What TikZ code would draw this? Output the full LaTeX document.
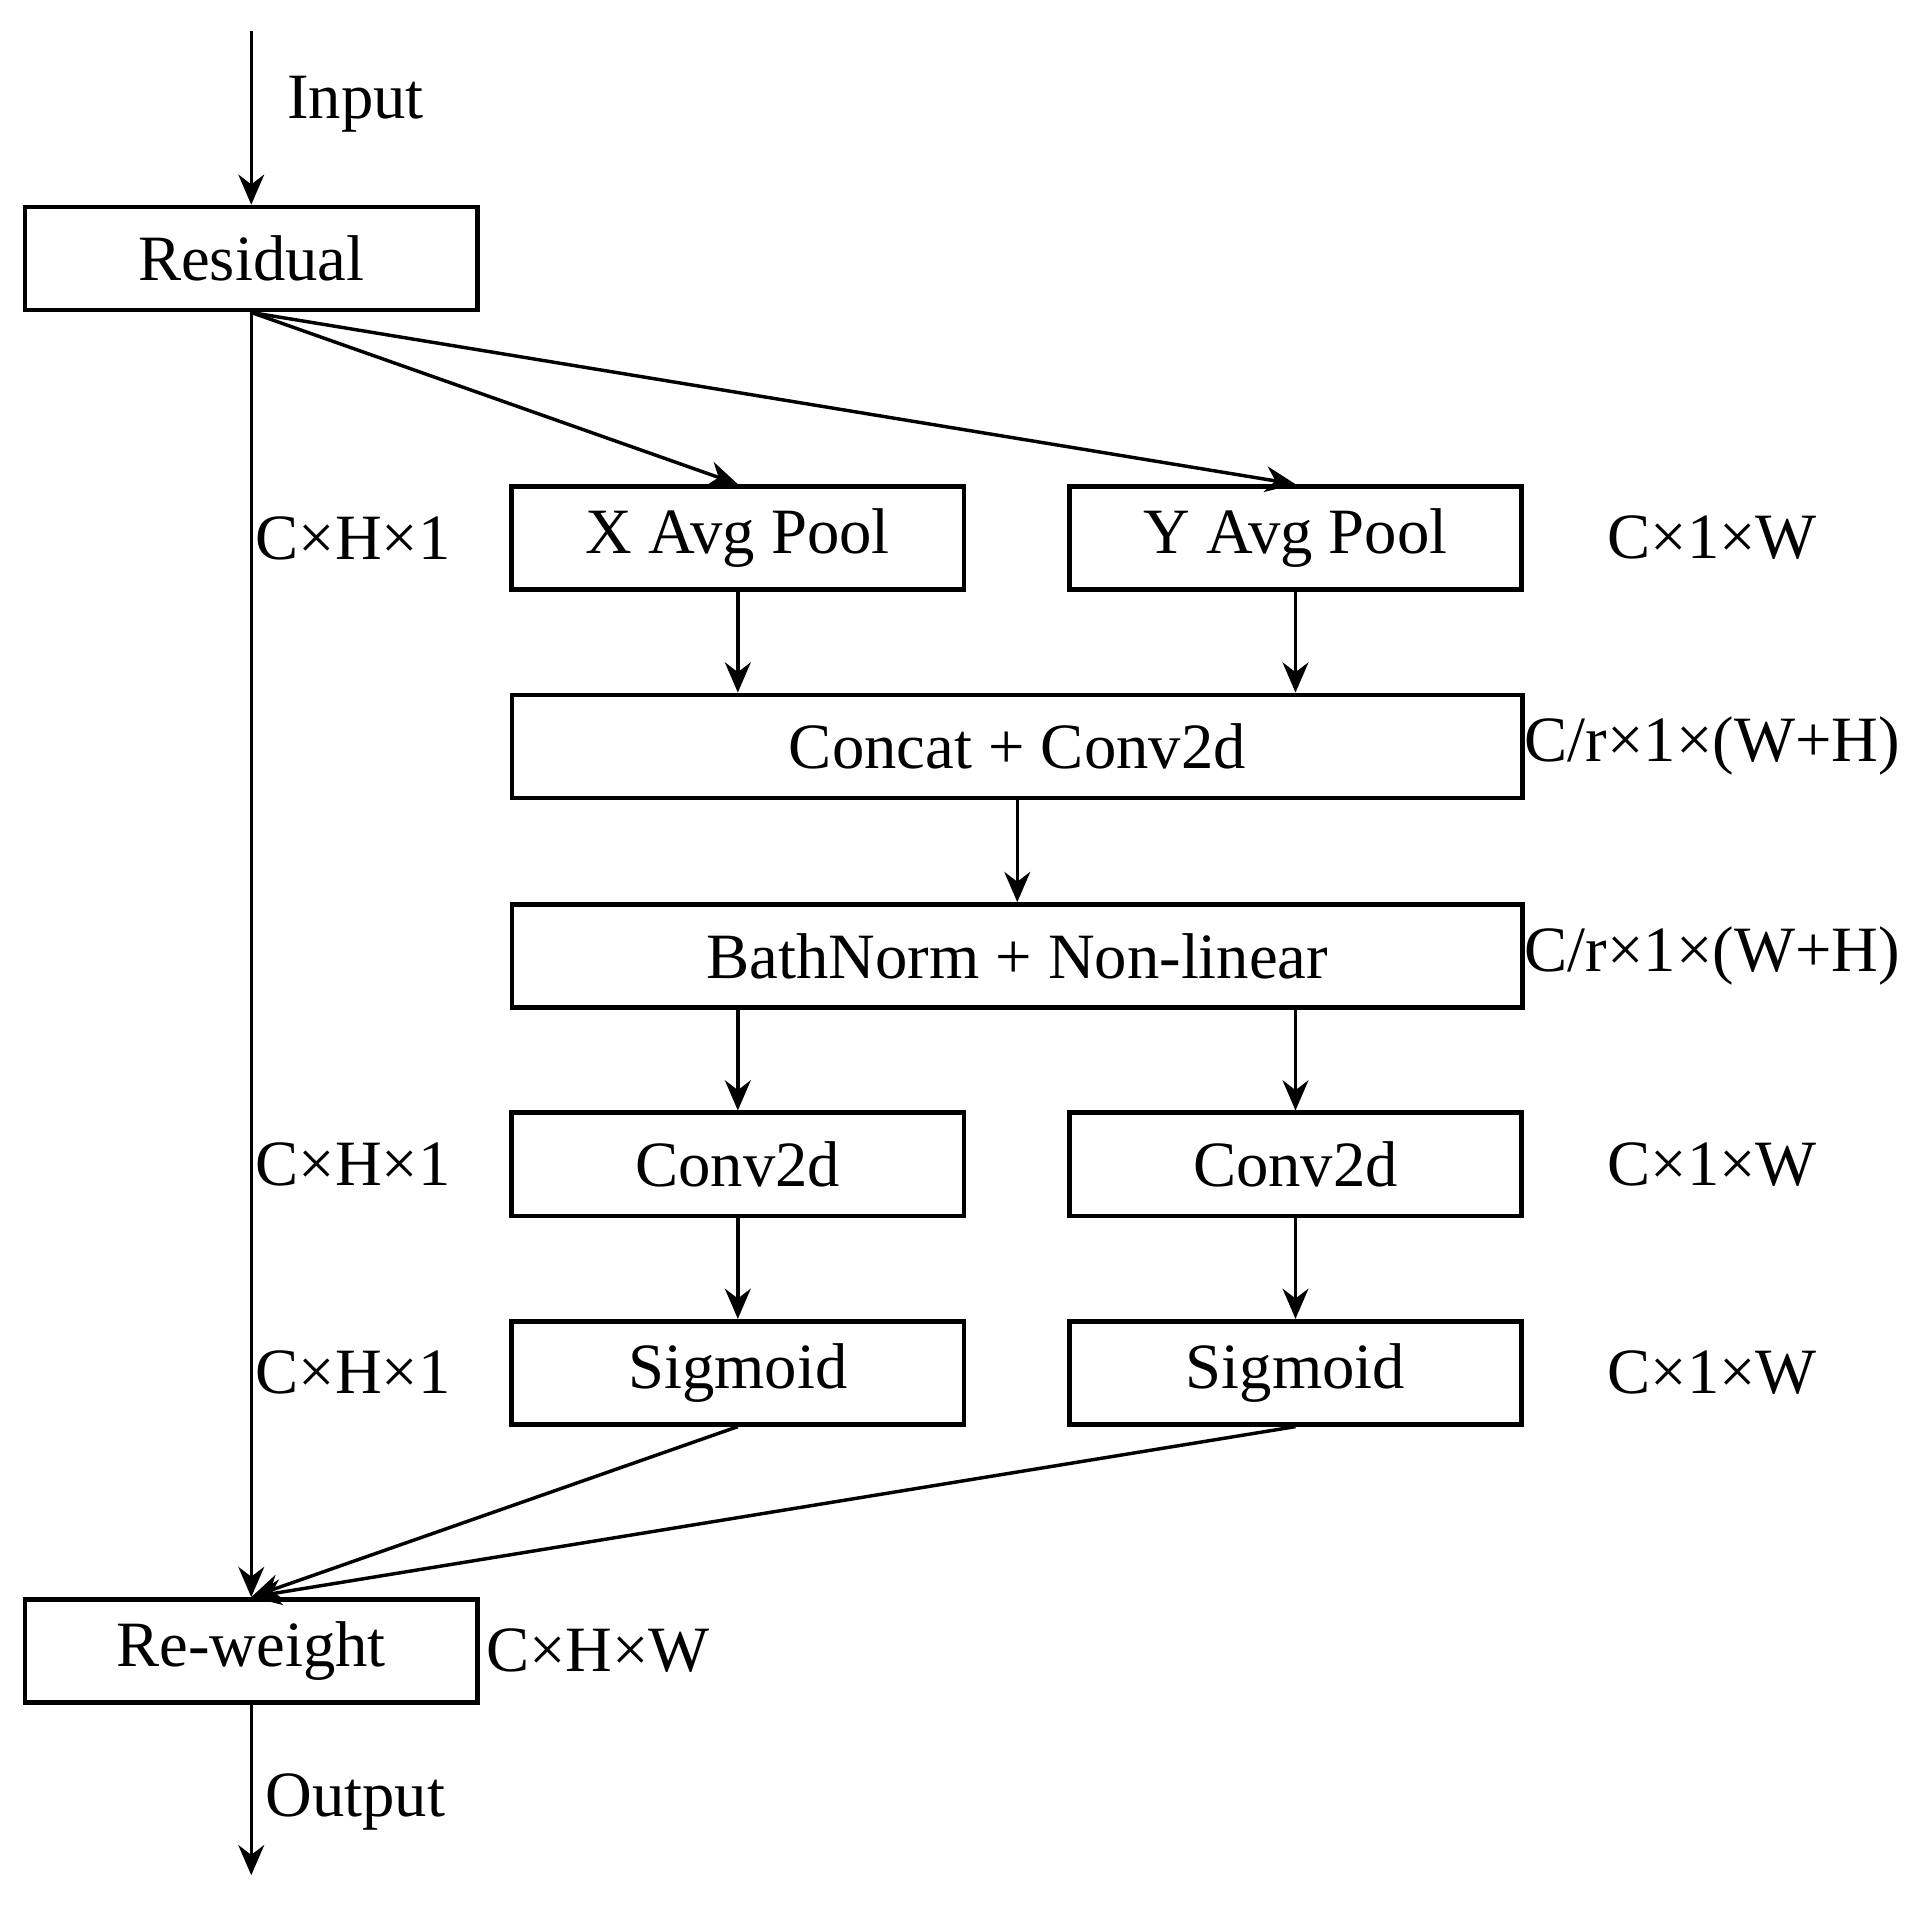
\documentclass[tikz,border=0pt]{standalone}
\usepackage{fontspec}
\setmainfont{Liberation Serif}
\usetikzlibrary{positioning,arrows.meta}
\begin{document}
\begin{tikzpicture}[x=0.01cm, y=-0.01cm, >={Stealth[length=7pt,width=6pt]}, every node/.style={font=\fontsize{15}{18}\selectfont}]
\tikzset{
  blk/.style={draw, line width=1.1pt, minimum height=0.84cm, inner sep=0pt},
  sblk/.style={blk, minimum width=3.69cm},
  wblk/.style={blk, minimum width=8.24cm},
  dim/.style={inner sep=0pt},
  arr/.style={->, line width=0.8pt}
}
\useasboundingbox (0,0) rectangle (1560,1560);
\node[sblk] (res) at (205,211) {Residual};
\node[sblk] (xpool) at (602,439) {X Avg Pool};
\node[sblk] (ypool) at (1057,439) {Y Avg Pool};
\node[wblk] (cat) at (830,609) {Concat + Conv2d};
\node[wblk] (bn) at (830,780) {BathNorm + Non-linear};
\node[sblk] (convx) at (602,950) {Conv2d};
\node[sblk] (convy) at (1057,950) {Conv2d};
\node[sblk] (sigx) at (602,1120) {Sigmoid};
\node[sblk] (sigy) at (1057,1120) {Sigmoid};
\node[sblk] (rew) at (205,1347) {Re-weight};
\coordinate (in) at (205,25);
\coordinate (out) at (205,1530);
% dimension labels
\node[dim] at (290,85) {Input};
\node[dim] at (290,1470) {Output};
\foreach \y in {439,950,1120} {
  \node[dim] at (288,\y) {C×H×1};
  \node[dim] at (1397,\y) {C×1×W};
}
\node[dim] at (1397,609) {C/r×1×(W+H)};
\node[dim] at (1397,780) {C/r×1×(W+H)};
\node[dim] at (488,1347) {C×H×W};
% connectors
\draw[arr] (in) -- (res.north);
\draw[arr] (res.south) -- (xpool.north);
\draw[arr] (res.south) -- (ypool.north);
\draw[arr] (res.south) -- (rew.north);
\draw[arr] (xpool.south) -- (xpool.south |- cat.north);
\draw[arr] (ypool.south) -- (ypool.south |- cat.north);
\draw[arr] (cat) -- (bn);
\draw[arr] (convx |- bn.south) -- (convx.north);
\draw[arr] (convy |- bn.south) -- (convy.north);
\draw[arr] (convx) -- (sigx);
\draw[arr] (convy) -- (sigy);
\draw[arr] (sigx.south) -- (rew.north);
\draw[arr] (sigy.south) -- (rew.north);
\draw[arr] (rew.south) -- (out);
\end{tikzpicture}
\end{document}
